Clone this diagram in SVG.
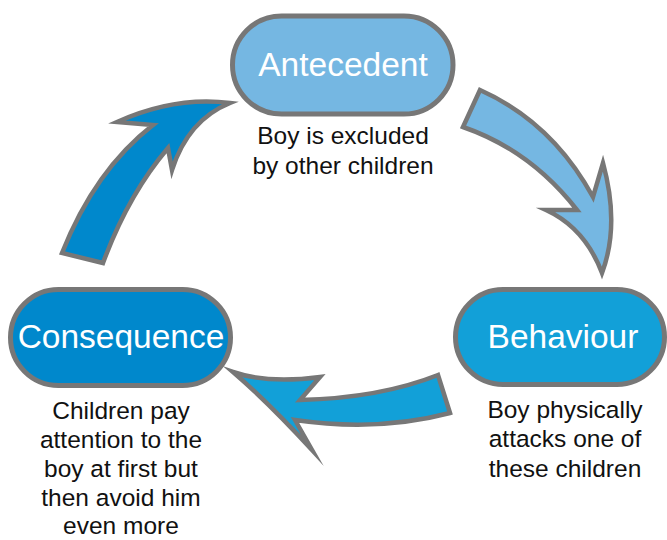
<svg xmlns="http://www.w3.org/2000/svg" width="667" height="540" viewBox="0 0 667 540">
<style>
.pill{stroke:#777;stroke-width:5}
.arrow{stroke:#777;stroke-width:4.5;stroke-linejoin:miter;stroke-miterlimit:10}
.title{font-family:"Liberation Sans",Arial,sans-serif;font-size:33.5px;fill:#fff;text-anchor:middle}
.desc{font-family:"Liberation Sans",Arial,sans-serif;font-size:24.5px;fill:#111;text-anchor:middle}
</style>
<rect width="667" height="540" fill="#fff"/>
<g id="connectors">
<path class="arrow" fill="#75b7e2" d="M 480 90 Q 552 122 593 197 L 603 163 Q 620 225 602 273 Q 585 228 546 210 L 577 210 Q 530 150 463 127 Z"/>
<path class="arrow" fill="#12a0d8" d="M 438 375 Q 380 398 300 400 L 320 377 Q 268 384 233 372 Q 268 402 312 450 L 295 420 Q 378 432 450 413 Z"/>
<path class="arrow" fill="#0088cc" d="M 62 253 Q 95 170 153 125 L 117 122 Q 175 96 230 103 Q 188 120 172 170 L 168 148 Q 128 195 103 263 Z"/>
</g>
<g id="antecedent">
<rect class="pill" x="232.5" y="16" width="220.5" height="98" rx="49" fill="#75b7e2"/>
<text class="title" x="343" y="76">Antecedent</text>
<text class="desc" x="343" y="144">Boy is excluded</text>
<text class="desc" x="343" y="174">by other children</text>
</g>
<g id="behaviour">
<rect class="pill" x="455.5" y="289.5" width="209" height="95" rx="47.5" fill="#12a0d8"/>
<text class="title" x="563" y="348">Behaviour</text>
<text class="desc" x="565" y="418">Boy physically</text>
<text class="desc" x="565" y="447">attacks one of</text>
<text class="desc" x="565" y="477">these children</text>
</g>
<g id="consequence">
<rect class="pill" x="10.5" y="289.5" width="220" height="96" rx="48" fill="#0088cc"/>
<text class="title" x="121" y="348">Consequence</text>
<text class="desc" x="121" y="419">Children pay</text>
<text class="desc" x="121" y="448">attention to the</text>
<text class="desc" x="121" y="477">boy at first but</text>
<text class="desc" x="121" y="506">then avoid him</text>
<text class="desc" x="121" y="534">even more</text>
</g>
</svg>
